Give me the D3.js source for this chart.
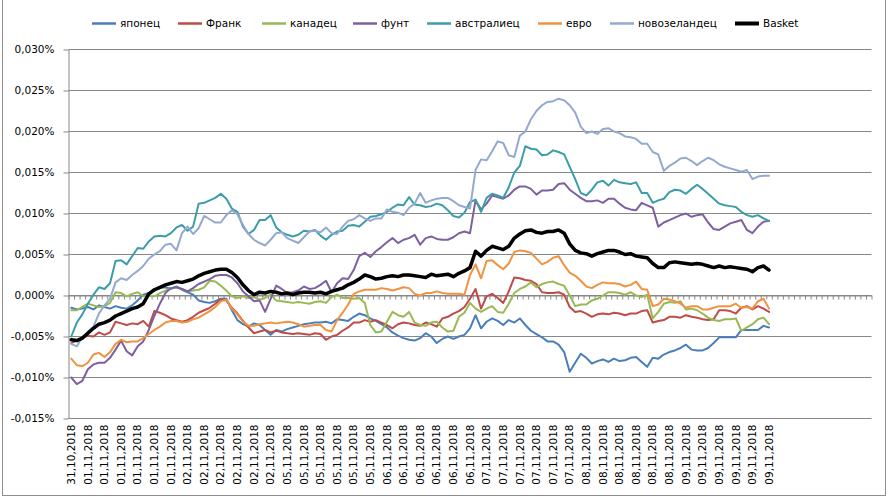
<!DOCTYPE html>
<html>
<head>
<meta charset="utf-8">
<script src="https://cdn.jsdelivr.net/npm/d3@7"></script>
<style>
body { margin: 0; background: #fff; }
text { font-family: "DejaVu Sans", sans-serif; fill: #000; }
</style>
</head>
<body>
<div id="chart"></div>
<script>
// category labels (one every 3rd category)
var tickLabels = ["31,10,2018",
  "01,11,2018","01,11,2018","01,11,2018","01,11,2018","01,11,2018","01,11,2018",
  "02,11,2018","02,11,2018","02,11,2018","02,11,2018","02,11,2018","02,11,2018",
  "05,11,2018","05,11,2018","05,11,2018","05,11,2018","05,11,2018","05,11,2018",
  "06,11,2018","06,11,2018","06,11,2018","06,11,2018","06,11,2018","06,11,2018",
  "07,11,2018","07,11,2018","07,11,2018","07,11,2018","07,11,2018","07,11,2018",
  "08,11,2018","08,11,2018","08,11,2018","08,11,2018","08,11,2018","08,11,2018",
  "09,11,2018","09,11,2018","09,11,2018","09,11,2018","09,11,2018","09,11,2018"];

var seriesNames = ["японец", "Франк", "канадец", "фунт", "австралиец", "евро", "новозеландец", "Basket"];

// values in thousandths of a percent (5 = 0,005%)
var yen = [-1.5,-1.7,-1.6,-1.4,-1.7,-1.2,-1.4,-1.6,-1.3,-1.5,
  -1.6,-1.2,-0.6,0.1,0.3,0.6,0.9,1.0,0.8,1.1,
  0.7,0.4,0.1,-0.6,-0.8,-0.9,-0.7,-0.4,-0.4,-1.8,
  -3.0,-3.5,-3.8,-3.4,-3.6,-4.2,-4.8,-4.2,-4.4,-4.1,
  -3.9,-3.7,-3.5,-3.4,-3.3,-3.3,-3.2,-3.4,-2.9,-3.0,
  -3.1,-2.6,-2.2,-2.4,-2.8,-3.1,-3.5,-3.9,-4.5,-4.9,
  -5.2,-5.4,-5.5,-5.2,-4.6,-5.0,-5.8,-5.3,-5.0,-5.3,
  -5.0,-4.8,-4.0,-2.4,-4.0,-3.2,-2.8,-3.1,-3.6,-3.0,
  -3.3,-2.8,-3.6,-4.3,-4.7,-5.1,-5.6,-5.6,-6.0,-6.9,
  -9.3,-8.2,-7.1,-7.6,-8.3,-8.0,-7.8,-8.1,-7.7,-8.0,
  -7.9,-7.6,-7.5,-8.1,-8.7,-7.6,-7.7,-7.2,-6.9,-6.7,
  -6.4,-6.0,-6.6,-6.7,-6.7,-6.4,-5.8,-5.1,-5.1,-5.1,
  -5.1,-4.2,-4.2,-4.2,-4.2,-3.7,-3.9];

var franc = [-5.8,-5.5,-5.1,-4.9,-5.0,-4.5,-4.8,-4.5,-3.2,-3.4,
  -3.6,-3.4,-3.5,-3.1,-3.8,-1.9,-2.1,-2.4,-2.8,-3.0,
  -3.2,-3.0,-2.6,-2.1,-1.8,-1.5,-1.0,-0.5,-0.6,-1.5,
  -2.2,-3.1,-3.9,-4.6,-4.4,-4.2,-4.5,-4.3,-4.5,-4.6,
  -4.7,-4.6,-4.7,-4.8,-4.6,-4.7,-5.4,-5.0,-4.8,-4.3,
  -3.9,-3.3,-3.3,-3.0,-3.2,-3.0,-3.3,-3.6,-4.0,-3.5,
  -3.3,-3.4,-3.6,-3.7,-3.3,-3.5,-3.8,-2.8,-2.6,-2.2,
  -1.9,-1.4,-0.4,0.8,-1.6,-0.1,0.2,-0.3,-0.9,0.5,
  2.2,2.1,1.9,1.8,1.4,0.4,0.3,0.3,0.4,0.1,
  -1.4,-2.0,-1.9,-2.2,-2.6,-2.3,-2.2,-2.3,-2.1,-2.2,
  -2.4,-2.2,-2.2,-1.9,-1.8,-3.3,-3.1,-3.0,-2.6,-2.6,
  -2.7,-2.4,-2.6,-2.7,-2.9,-3.0,-2.9,-1.8,-1.8,-1.9,
  -2.2,-1.5,-1.3,-1.7,-1.3,-1.6,-2.0];

var cad = [-1.8,-1.8,-1.4,-1.0,-1.2,-1.4,-1.3,-0.9,0.4,0.3,
  -0.1,0.2,0.4,-0.1,0.0,-0.1,0.3,0.6,0.9,1.0,
  0.8,0.5,0.6,0.7,1.0,1.8,1.7,1.2,0.6,-0.1,
  -0.3,-0.1,-0.3,-0.2,-0.5,-0.3,0.1,-0.6,-0.7,-0.8,
  -0.9,-0.8,-0.9,-1.0,-0.8,-0.7,-0.9,-0.2,0.1,-0.3,
  -0.3,-0.4,-0.3,-0.9,-3.6,-4.5,-4.4,-3.2,-2.0,-2.4,
  -2.6,-2.0,-3.3,-3.6,-3.7,-3.3,-3.2,-3.9,-4.4,-4.3,
  -2.6,-2.1,-0.9,-1.6,-2.0,-1.6,-1.3,-2.0,-2.1,-1.0,
  0.3,0.8,1.1,1.6,1.0,1.4,1.6,1.7,1.4,1.2,
  0.0,-1.3,-1.1,-1.1,-0.6,-0.4,0.0,0.4,0.4,0.3,
  0.1,0.4,0.0,-0.2,0.1,-2.8,-2.0,-1.0,-0.8,-0.9,
  -0.7,-1.7,-1.6,-1.8,-2.2,-2.7,-3.0,-3.1,-2.9,-2.9,
  -2.8,-4.3,-3.9,-3.5,-2.9,-2.7,-3.5];

var gbp = [-10.0,-10.8,-10.4,-9.0,-8.4,-8.2,-8.2,-7.6,-6.6,-5.5,
  -6.8,-7.3,-6.2,-5.6,-4.2,-2.5,-1.0,0.3,0.9,1.0,
  0.8,0.5,0.9,1.4,1.7,2.0,2.4,2.5,2.5,2.2,
  1.5,0.5,-0.1,-0.7,-0.6,-2.0,-0.4,1.2,0.8,0.3,
  0.4,0.6,1.1,0.8,0.9,1.3,1.8,0.4,1.5,2.1,
  2.0,3.1,4.8,5.2,4.7,5.4,5.9,6.5,7.0,6.4,
  6.8,7.0,7.4,6.2,7.0,7.2,6.9,6.8,6.8,7.1,
  7.6,7.8,7.6,11.6,10.5,11.2,12.2,12.0,11.8,12.2,
  12.9,13.3,13.3,13.0,12.3,12.8,12.8,12.9,13.6,13.7,
  12.9,12.4,11.9,11.5,11.5,11.6,11.3,11.8,11.8,11.2,
  10.7,10.5,10.4,11.3,11.0,10.7,8.4,8.9,9.2,9.5,
  9.8,10.0,9.6,9.8,9.9,8.9,8.1,8.0,8.4,8.8,
  9.0,9.2,8.0,7.6,8.4,9.0,9.1];

var aud = [-5.0,-3.3,-2.3,-1.0,0.1,1.0,0.8,1.5,4.2,4.3,
  3.8,4.8,5.8,5.7,6.6,7.2,7.3,7.2,7.6,8.3,
  8.6,7.9,8.4,11.2,11.3,11.6,11.9,12.4,11.8,10.6,
  10.2,8.4,7.5,8.0,9.2,9.2,9.8,8.3,7.7,7.4,
  7.2,7.4,7.9,7.8,8.0,7.3,6.8,7.4,7.8,7.9,
  8.5,8.6,8.4,9.0,9.6,9.7,9.9,10.2,10.7,11.1,
  11.0,12.0,11.1,11.0,10.8,10.9,11.2,11.0,10.4,9.7,
  9.5,10.1,11.4,11.7,10.2,11.9,12.4,12.2,11.9,13.2,
  15.0,15.8,18.2,17.9,17.8,17.1,17.2,17.7,17.5,17.2,
  15.7,14.2,12.5,12.2,12.9,13.8,14.0,13.4,14.1,13.8,
  13.7,13.6,13.8,12.5,12.5,11.3,11.6,11.8,12.6,12.9,
  12.8,12.4,13.0,13.5,13.0,12.4,11.8,11.2,11.0,10.9,
  10.8,10.2,9.8,9.6,9.8,9.4,9.1];

var eur = [-7.7,-8.5,-8.6,-8.2,-7.2,-7.0,-7.5,-6.9,-5.9,-5.4,
  -5.7,-5.6,-5.6,-5.2,-4.7,-4.2,-3.8,-3.3,-3.1,-3.1,
  -3.3,-3.2,-2.9,-2.7,-2.3,-1.9,-1.4,-0.7,-0.5,-1.6,
  -2.3,-3.2,-3.7,-3.7,-3.5,-3.4,-3.3,-3.4,-3.3,-3.2,
  -3.3,-3.5,-3.8,-3.7,-3.6,-3.6,-4.2,-4.4,-3.0,-2.1,
  -1.1,0.2,0.5,0.7,0.7,0.7,0.9,0.8,0.6,0.8,
  1.0,0.9,0.2,0.0,0.3,0.3,0.5,0.3,0.2,0.2,
  0.2,0.1,2.5,3.8,2.1,4.2,4.3,3.7,3.2,3.9,
  5.3,5.5,5.4,5.2,4.5,3.8,4.1,4.6,4.8,3.7,
  2.8,2.4,1.8,1.1,0.9,1.3,1.6,1.5,1.5,1.4,
  1.1,1.3,1.7,0.8,0.7,-1.3,-1.1,-0.4,-0.5,-0.7,
  -1.0,-1.5,-1.3,-1.3,-1.7,-1.7,-1.5,-1.3,-1.3,-1.3,
  -1.0,-1.5,-1.4,-1.6,-0.7,-0.4,-1.6];

var nzd = [-5.9,-6.2,-5.1,-4.4,-3.8,-2.2,-1.2,-0.4,1.6,2.1,
  1.9,2.5,3.0,3.6,4.5,5.0,5.4,6.2,6.3,5.5,
  7.6,8.4,7.5,8.2,9.7,9.3,8.9,8.9,9.8,10.4,
  9.9,8.6,7.5,6.8,6.4,6.1,6.8,7.6,7.7,7.0,
  6.7,6.4,7.1,7.8,7.9,7.7,8.3,7.6,7.5,8.4,
  9.1,9.3,9.8,9.4,9.1,9.4,9.4,10.5,10.2,10.1,
  9.8,10.7,11.2,12.5,11.3,11.6,11.8,11.9,11.9,11.5,
  11.0,10.8,10.6,15.3,16.6,16.5,17.6,18.8,18.6,17.1,
  16.9,19.5,20.0,21.5,22.5,23.2,23.6,23.7,24.0,23.8,
  23.2,22.3,20.6,19.8,20.0,19.7,20.3,20.4,20.0,19.8,
  19.4,19.3,19.1,18.5,18.5,17.5,17.2,15.2,15.8,16.2,
  16.7,16.8,16.4,15.9,16.4,16.8,16.5,16.0,15.7,15.5,
  15.3,15.1,15.3,14.2,14.5,14.6,14.6];

var basket = [-5.4,-5.5,-5.2,-4.6,-4.0,-3.5,-3.3,-3.0,-2.5,-2.2,
  -1.9,-1.6,-1.4,-1.0,0.2,0.7,1.0,1.3,1.5,1.7,
  1.6,1.8,2.0,2.4,2.7,2.9,3.1,3.2,3.2,2.8,
  2.2,1.3,0.6,0.1,0.4,0.3,0.5,0.4,0.2,0.3,
  0.1,0.3,0.4,0.4,0.3,0.4,0.2,0.5,0.7,0.9,
  1.3,1.6,2.0,2.5,2.3,2.0,2.1,2.3,2.4,2.3,
  2.5,2.5,2.4,2.3,2.2,2.6,2.4,2.5,2.6,2.3,
  2.7,3.0,3.4,5.4,4.8,5.5,6.0,5.8,5.6,6.0,
  7.0,7.5,7.9,8.0,7.7,7.6,7.8,7.8,8.0,7.6,
  6.3,5.5,5.2,5.1,4.8,5.1,5.3,5.5,5.5,5.3,
  5.0,5.1,4.8,4.7,4.6,3.9,3.4,3.4,4.0,4.1,
  4.0,3.9,3.8,3.9,3.8,3.6,3.4,3.6,3.4,3.5,
  3.4,3.3,3.2,2.9,3.4,3.6,3.1];

var yTicks = [-15, -10, -5, 0, 5, 10, 15, 20, 25, 30];

// styles
var colors = ["#4A7EBB", "#BE4B48", "#98B954", "#7D60A0", "#3C9DAA", "#F09340", "#94A9CF", "#000000"];
var widths = [2, 2, 2, 2, 2, 2, 2, 3.5];
var legendX = [92, 178, 262, 353, 427, 538, 610, 735];

var allSeries = [yen, franc, cad, gbp, aud, eur, nzd, basket];

var svgWidth = 890;
var svgHeight = 500;

// plot area
var plot = { left: 68.5, right: 871.5, top: 49.5, bottom: 418.5 };
var nCats = 145;   // categories on the axis (data fills the first 127)
var gridColor = "#878787";

var xScale = d3.scaleLinear()
    .domain([0, nCats])
    .range([plot.left, plot.right]);

var yScale = d3.scaleLinear()
    .domain([-15, 30])
    .range([plot.bottom, plot.top]);

var svg = d3.select('#chart').append('svg')
    .attr('width', svgWidth)
    .attr('height', svgHeight);

svg.append('rect')
    .attr('width', svgWidth)
    .attr('height', svgHeight)
    .attr('fill', '#fff');

// chart frame
svg.append('rect')
    .attr('x', 2.5)
    .attr('y', -2)
    .attr('width', 883)
    .attr('height', 497.5)
    .attr('fill', 'none')
    .attr('stroke', '#8e8e8e');

// gridlines
svg.append('g').selectAll('line')
    .data(yTicks)
    .enter()
    .append('line')
    .attr('x1', plot.left)
    .attr('x2', plot.right)
    .attr('y1', d => yScale(d))
    .attr('y2', d => yScale(d))
    .attr('stroke', gridColor)
    .attr('stroke-width', 1);

// y axis
var yAxis = d3.axisLeft(yScale)
    .tickValues(yTicks)
    .tickSize(5)
    .tickSizeOuter(0)
    .tickPadding(9)
    .tickFormat(d => (d / 1000).toFixed(3).replace('.', ',') + '%');

var yG = svg.append('g')
    .attr('transform', `translate(${plot.left}, 0)`)
    .call(yAxis);
yG.selectAll('path, line').attr('stroke', gridColor);
yG.selectAll('text')
    .style('font-family', '"DejaVu Sans", sans-serif')
    .style('font-size', '10.5px')
    .attr('fill', '#000');

// x axis through zero, one tick per category
var xAxis = d3.axisBottom(xScale)
    .tickValues(d3.range(0, nCats + 1))
    .tickSize(4)
    .tickSizeOuter(0)
    .tickFormat('');

var xG = svg.append('g')
    .attr('transform', `translate(0, ${yScale(0)})`)
    .call(xAxis);
xG.selectAll('path, line').attr('stroke', gridColor);

// category labels at the bottom
svg.append('g').selectAll('text')
    .data(tickLabels)
    .enter()
    .append('text')
    .attr('transform', (d, k) => `translate(${xScale(3 * k + 0.5)}, ${plot.bottom + 6}) rotate(-90)`)
    .attr('dy', '0.35em')
    .attr('text-anchor', 'end')
    .style('font-size', '10.5px')
    .text(d => d);

// series lines
var line = d3.line()
    .x((d, i) => xScale(i + 0.5))
    .y(d => yScale(d));

svg.append('g').selectAll('path')
    .data(allSeries)
    .enter()
    .append('path')
    .attr('d', d => line(d))
    .attr('fill', 'none')
    .attr('stroke', (d, i) => colors[i])
    .attr('stroke-width', (d, i) => widths[i])
    .attr('stroke-linejoin', 'round')
    .attr('stroke-linecap', 'round');

// legend
var legend = svg.append('g').selectAll('g')
    .data(seriesNames)
    .enter()
    .append('g')
    .attr('transform', (d, i) => `translate(${legendX[i]}, 23.5)`);

legend.append('line')
    .attr('x1', 0)
    .attr('x2', 24)
    .attr('stroke', (d, i) => colors[i])
    .attr('stroke-width', (d, i) => widths[i] + 0.5);

legend.append('text')
    .attr('x', 28)
    .attr('dy', '0.35em')
    .style('font-size', '10.5px')
    .text(d => d);
</script>
</body>
</html>
